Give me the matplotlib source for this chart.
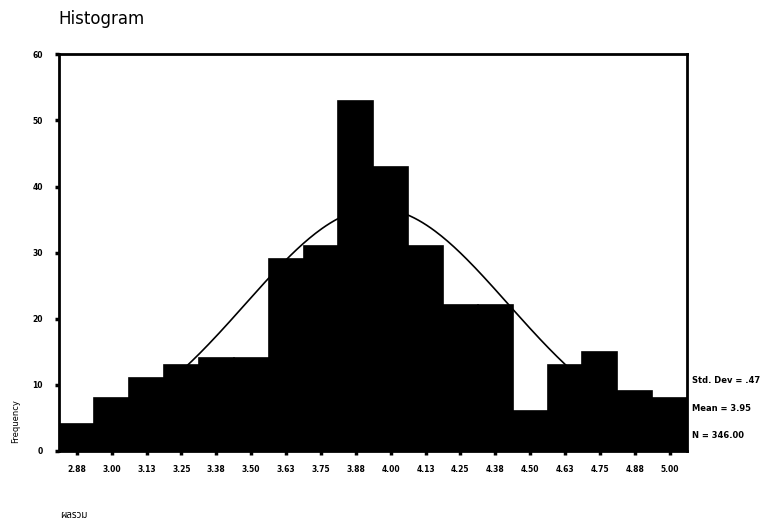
import numpy as np
import matplotlib.pyplot as plt

# bin centres (as printed on the x axis) and counts
bin_labels = ["2.88", "3.00", "3.13", "3.25", "3.38", "3.50", "3.63", "3.75", "3.88",
              "4.00", "4.13", "4.25", "4.38", "4.50", "4.63", "4.75", "4.88", "5.00"]
counts = [4, 8, 11, 13, 14, 14, 29, 31, 53, 43, 31, 22, 22, 6, 13, 15, 9, 8]

std_dev = 0.47
mean = 3.95
n_total = 346.00
bin_width = 0.125

centers = 2.875 + bin_width * np.arange(len(counts))

plt.rcParams['font.family'] = ['DejaVu Sans', 'Noto Sans Thai']

fig = plt.figure(figsize=(7.72, 5.23), dpi=100)
ax = fig.add_axes([0.077, 0.138, 0.813, 0.758])

ax.bar(centers, counts, width=bin_width, color="black", edgecolor="black",
       linewidth=1.2, zorder=2)

# fitted normal curve
xs = np.linspace(centers[0] - bin_width / 2, centers[-1] + bin_width / 2, 300)
ys = n_total * bin_width / (std_dev * np.sqrt(2 * np.pi)) * np.exp(-0.5 * ((xs - mean) / std_dev) ** 2)
ax.plot(xs, ys, color="black", linewidth=1.2, zorder=3)

ax.set_xlim(centers[0] - bin_width / 2, centers[-1] + bin_width / 2)
ax.set_ylim(0, 60)
ax.set_xticks(centers)
ax.set_xticklabels(bin_labels)
ax.set_yticks([0, 10, 20, 30, 40, 50, 60])
ax.tick_params(direction="out", length=3, width=2.5, labelsize=5.5)
ax.tick_params(axis="x", pad=7)
ax.tick_params(axis="y", pad=9)
for lab in ax.get_xticklabels() + ax.get_yticklabels():
    lab.set_fontweight("bold")
for s in ax.spines.values():
    s.set_linewidth(2)

fig.text(0.075, 0.963, "Histogram", fontsize=12, ha="left", va="center")
fig.text(0.02, 0.195, "Frequency", fontsize=6, rotation=90, ha="center", va="center")
fig.text(0.078, 0.015, "ผลรวม", fontsize=7, fontweight="bold", ha="left", va="center")

fig.text(0.897, 0.272, "Std. Dev = .47", fontsize=6, fontweight="bold", va="center")
fig.text(0.897, 0.218, "Mean = 3.95", fontsize=6, fontweight="bold", va="center")
fig.text(0.897, 0.168, "N = 346.00", fontsize=6, fontweight="bold", va="center")

fig.savefig("out.png", dpi=100)
